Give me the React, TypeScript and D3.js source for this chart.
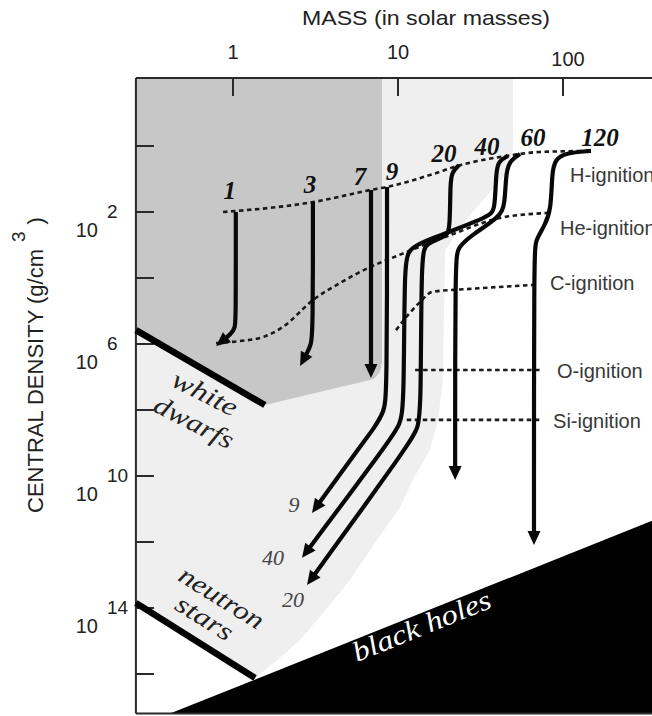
import React from "react";
import * as d3 from "d3";

type Pt = [number, number]; // [mass in solar masses, log10 central density g/cm^3]

const WIDTH = 652;
const HEIGHT = 716;

// ---------- axes ----------
const massTicks = [1, 10, 100];
const massTickLabels = ["1", "10", "100"];
const densityTicks = [0, 2, 4, 6, 8, 10, 12, 14, 16];
const densityLabelTicks = [2, 6, 10, 14];

// plot frame extent (data units)
const frameMass: [number, number] = [0.258, 420];
const frameLogRho: [number, number] = [-2.06, 17.2];

// ---------- regions ----------
const degenerateRegion: Pt[] = [
  [0.258, -2.06], [8.0, -2.06], [8.0, 6.55], [7.78, 6.85], [7.16, 7.06], [1.56, 7.85], [0.258, 5.58],
];
const collapseRegion: Pt[] = [
  [0.258, -2.06], [0.258, 13.85], [1.36, 16.12], [1.85, 15.58], [2.55, 14.97], [3.51, 14.15],
  [5.12, 13.15], [7.46, 11.94], [10.3, 10.94], [12.3, 10.12], [15.6, 9.21], [17.5, 8.3],
  [18.7, 7.09], [19.3, 3.15], [27.3, 2.09], [44.5, 0.88], [49.8, 0.12], [49.8, -2.06],
];
const blackHoleRegion: Pt[] = [[0.415, 17.2], [420, 11.19], [420, 17.2]];
const whiteDwarfLine: Pt[] = [[0.258, 5.58], [1.56, 7.85]];
const neutronStarLine: Pt[] = [[0.258, 13.85], [1.36, 16.12]];

// ---------- evolutionary tracks ----------
const trackNames = ["1", "3", "7", "9", "20", "40", "60", "120"];
const track1: Pt[] = [[1.04, 2.0], [1.04, 5.2], [1.03, 5.52], [0.97, 5.7], [0.79, 6.06]];
const track3: Pt[] = [[3.05, 1.7], [3.05, 5.64], [2.97, 6.03], [2.81, 6.27], [2.55, 6.67]];
const track7: Pt[] = [[6.86, 1.33], [6.86, 7.03]];
const track9: Pt[] = [[8.58, 1.24], [8.58, 7.55], [8.22, 8.06], [7.16, 8.55], [6.05, 9.03], [3.01, 11.12]];
const track20: Pt[] = [
  [23.4, 0.58], [21.3, 0.79], [20.7, 1.09], [20.7, 2.61], [19.3, 2.73], [14.8, 2.97],
  [13.8, 3.21], [13.8, 8.0], [13.2, 8.55], [11.8, 9.0], [2.81, 13.3],
];
const track40: Pt[] = [
  [46.4, 0.3], [40.9, 0.45], [39.3, 0.73], [38.7, 1.94], [36.1, 2.15], [11.8, 3.03],
  [10.9, 3.3], [10.9, 7.85], [10.3, 8.45], [8.95, 8.91], [2.62, 12.48],
];
const track60: Pt[] = [
  [54.9, 0.24], [48.4, 0.42], [45.1, 0.73], [44.5, 1.79], [41.5, 2.15], [27.3, 2.73],
  [23.1, 3.09], [22.2, 3.39], [22.2, 10.12],
];
const track120: Pt[] = [
  [147.8, 0.15], [102.8, 0.21], [89.5, 0.42], [85.8, 0.79], [84.6, 1.94], [77.8, 2.39],
  [68.5, 2.85], [66.7, 3.15], [66.7, 12.09],
];
const tracks = [track1, track3, track7, track9, track20, track40, track60, track120];
const endLabelNames = ["9", "40", "20"];
const endLabelTracks = [3, 5, 4];

// ---------- ignition lines ----------
const ignitionNames = ["H-ignition", "He-ignition", "C-ignition", "O-ignition", "Si-ignition"];
const hIgnition: Pt[] = [
  [0.87, 2.0], [3.05, 1.7], [6.86, 1.33], [8.58, 1.24], [15.6, 0.88], [23.8, 0.58],
  [45.8, 0.3], [72.6, 0.18], [147.8, 0.15],
];
const heIgnition: Pt[] = [
  [0.789, 5.97], [1.1, 5.91], [1.52, 5.79], [2.01, 5.48], [3.05, 4.67], [4.45, 4.15],
  [6.77, 3.67], [9.86, 3.33], [20.7, 2.7], [41.5, 2.18], [81.1, 2.03],
];
const cIgnition: Pt[] = [[9.73, 5.58], [11.5, 5.12], [13.6, 4.73], [16.1, 4.42], [27.3, 4.33], [65.8, 4.21]];
const oIgnition: Pt[] = [[12.7, 6.79], [72.6, 6.79]];
const siIgnition: Pt[] = [[11.3, 8.3], [72.6, 8.3]];
const ignitionLines = [hIgnition, heIgnition, cIgnition, oIgnition, siIgnition];

// ---------- region labels (anchor in data units) ----------
const regionLabelText = ["white", "dwarfs", "neutron", "stars", "black holes"];
const regionLabelAnchor: Pt[] = [[0.64, 7.73], [0.549, 8.61], [0.8, 13.91], [0.631, 14.52], [5.64, 15.64]];

// ---------- layout (pixel offsets / styles) ----------
const topLabelOffsets: [number, number][] = [[-6, -13], [-3, -9], [-11, -5], [5, -7], [-15, -3], [-21, -1], [13, -8], [9, -5]];
const endLabelOffsets: [number, number][] = [[-18, -1], [-29, 7], [-14, 22]];
const ignitionLabelOffsets: [number, number][] = [[-21, 31], [12, 22], [17, 5], [17, 8], [13, 8]];
const regionLabelStyle = [
  { rot: 27, len: 70, size: 26, fill: "#222", anchor: "middle" },
  { rot: 27, len: 86, size: 26, fill: "#222", anchor: "middle" },
  { rot: 32, len: 95, size: 26, fill: "#222", anchor: "middle" },
  { rot: 32, len: 63, size: 26, fill: "#222", anchor: "middle" },
  { rot: -22, len: 147, size: 28, fill: "#fff", anchor: "start" },
];

const SANS = "'Liberation Sans', Arial, Helvetica, sans-serif";
const SERIF = "'Liberation Serif', 'Times New Roman', serif";

export default function App() {
  const x = d3.scaleLog().domain([1, 100]).range([233, 563]);
  const y = d3.scaleLinear().domain([2, 14]).range([212, 608]);
  const px = (p: Pt): [number, number] => [x(p[0]), y(p[1])];

  const linear = d3.line();
  const poly = (pts: Pt[]) => (linear(pts.map(px)) || "") + "Z";
  const dashLine = d3.line().curve(d3.curveMonotoneX);
  const trackLine = d3.line().curve(d3.curveBasis);

  const fx0 = x(frameMass[0]);
  const fy0 = y(frameLogRho[0]);
  const fy1 = y(frameLogRho[1]);

  const trackShapes = tracks.map((pts) => {
    const p = pts.map(px);
    const tip = p[p.length - 1];
    const prev = p[p.length - 2];
    let dx = tip[0] - prev[0];
    let dy = tip[1] - prev[1];
    const l = Math.hypot(dx, dy);
    dx /= l;
    dy /= l;
    const end: [number, number] = [tip[0] - dx * 8, tip[1] - dy * 8];
    const path = trackLine([...p.slice(0, -1), end]) || "";
    const AL = 14;
    const AW = 6.5;
    const bx = tip[0] - dx * AL;
    const by = tip[1] - dy * AL;
    const head = `M${tip[0]},${tip[1]}L${bx - dy * AW},${by + dx * AW}L${bx + dy * AW},${by - dx * AW}Z`;
    return { path, head, start: p[0], tip };
  });

  return (
    <svg
      width={WIDTH}
      height={HEIGHT}
      style={{ position: "absolute", left: 0, top: 0, display: "block", background: "#fff" }}
    >
      <rect x={0} y={0} width={WIDTH} height={HEIGHT} fill="#fff" />

      {/* regions */}
      <path d={poly(collapseRegion)} fill="#efefef" />
      <path d={poly(degenerateRegion)} fill="#c7c7c7" />
      <path d={poly(blackHoleRegion)} fill="#000" />

      {/* frame */}
      <g stroke="#2a2a2a" strokeWidth={2} fill="none">
        <line x1={fx0} x2={WIDTH} y1={fy0} y2={fy0} />
        <line x1={fx0} x2={fx0} y1={fy0} y2={fy1} />
        <line x1={fx0} x2={WIDTH} y1={fy1} y2={fy1} />
        {massTicks.map((m) => (
          <line key={"mt" + m} x1={x(m)} x2={x(m)} y1={fy0} y2={fy0 + 18} />
        ))}
        {densityTicks.map((d) => (
          <line key={"dt" + d} x1={fx0} x2={fx0 + 18} y1={y(d)} y2={y(d)} />
        ))}
      </g>

      {/* axis labels */}
      <g fontFamily={SANS} fill="#222">
        {massTicks.map((m, i) => (
          <text key={"ml" + m} x={x(m) + (i === 2 ? 5 : 0)} y={fy0 - 19 + (i === 2 ? 7 : 0)} fontSize={20} textAnchor="middle">
            {massTickLabels[i]}
          </text>
        ))}
        {densityLabelTicks.map((d) => (
          <g key={"dl" + d}>
            <text x={98} y={y(d) + 25} fontSize={20} textAnchor="end">10</text>
            <text x={107} y={y(d) + 6} fontSize={19} textAnchor="start">{String(d)}</text>
          </g>
        ))}
        <text x={426} y={25} fontSize={21} textAnchor="middle" textLength={248} lengthAdjust="spacingAndGlyphs">
          MASS (in solar masses)
        </text>
        <text transform="translate(43,513) rotate(-90)" fontSize={22}>
          CENTRAL DENSITY (g/cm
          <tspan dx={7} dy={-18} fontSize={19}>3</tspan>
          <tspan dx={7} dy={18}>)</tspan>
        </text>
      </g>

      {/* remnant boundary lines */}
      <path d={linear(whiteDwarfLine.map(px)) || ""} stroke="#000" strokeWidth={6.5} fill="none" />
      <path d={linear(neutronStarLine.map(px)) || ""} stroke="#000" strokeWidth={6.5} fill="none" />

      {/* ignition lines */}
      <g stroke="#1a1a1a" strokeWidth={2.6} strokeDasharray="4.5,3.5" fill="none">
        {ignitionLines.map((pts, i) => (
          <path key={"ig" + i} d={dashLine(pts.map(px)) || ""} />
        ))}
      </g>
      <g fontFamily={SANS} fontSize={20} fill="#383838">
        {ignitionLines.map((pts, i) => {
          const e = px(pts[pts.length - 1]);
          return (
            <text key={"igl" + i} x={e[0] + ignitionLabelOffsets[i][0]} y={e[1] + ignitionLabelOffsets[i][1]}>
              {ignitionNames[i]}
            </text>
          );
        })}
      </g>

      {/* tracks */}
      <g>
        {trackShapes.map((t, i) => (
          <g key={"tr" + i}>
            <path d={t.path} stroke="#080808" strokeWidth={4.2} fill="none" strokeLinejoin="round" />
            <path d={t.head} fill="#080808" />
          </g>
        ))}
      </g>

      {/* track labels */}
      <g fontFamily={SERIF} fontStyle="italic" fontWeight="bold" fontSize={25} fill="#111" textAnchor="middle">
        {trackShapes.map((t, i) => (
          <text key={"tl" + i} x={t.start[0] + topLabelOffsets[i][0]} y={t.start[1] + topLabelOffsets[i][1]}>
            {trackNames[i]}
          </text>
        ))}
      </g>
      <g fontFamily={SERIF} fontStyle="italic" fontSize={22} fill="#444" textAnchor="middle">
        {endLabelNames.map((n, i) => {
          const t = trackShapes[endLabelTracks[i]].tip;
          return (
            <text key={"el" + i} x={t[0] + endLabelOffsets[i][0]} y={t[1] + endLabelOffsets[i][1]}>
              {n}
            </text>
          );
        })}
      </g>

      {/* region labels */}
      <g fontFamily={SERIF} fontStyle="italic">
        {regionLabelText.map((s, i) => {
          const a = px(regionLabelAnchor[i]);
          const st = regionLabelStyle[i];
          return (
            <text
              key={"rl" + i}
              transform={`translate(${a[0]},${a[1]}) rotate(${st.rot})`}
              fontSize={st.size}
              fill={st.fill}
              textAnchor={st.anchor}
              textLength={st.len}
              lengthAdjust="spacingAndGlyphs"
            >
              {s}
            </text>
          );
        })}
      </g>
    </svg>
  );
}
